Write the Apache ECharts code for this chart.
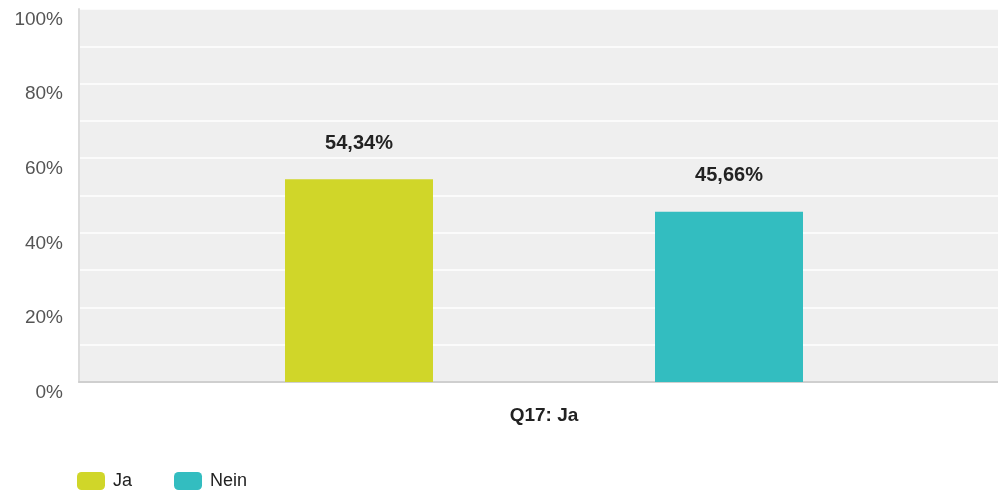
<!DOCTYPE html>
<html>
<head>
<meta charset="utf-8">
<script src="https://cdn.jsdelivr.net/npm/echarts@6/dist/echarts.min.js"></script>
<style>
  html, body { margin: 0; padding: 0; background: #fff; }
  #chart { width: 998px; height: 492px; }
</style>
</head>
<body>
<div id="chart"></div>
<script>
// Survey question Q17, share of answers
const categories = ['Q17: Ja'];
const seriesNames = ['Ja', 'Nein'];
const jaValues = [54.34];
const neinValues = [45.66];
const seriesColors = ['#d0d629', '#33bdc0'];

const FONT = '"Liberation Sans", Arial, sans-serif';

const fmtPct = v => v.toFixed(2).replace('.', ',') + '%';

const makeSeries = (name, data, color) => ({
  name: name,
  type: 'bar',
  data: data,
  barWidth: 148,
  barGap: '150%',
  itemStyle: { color: color },
  label: {
    show: true,
    position: 'top',
    distance: 26,
    formatter: p => fmtPct(p.value),
    fontFamily: FONT,
    fontSize: 20,
    fontWeight: 'bold',
    color: '#222'
  }
});

const chart = echarts.init(document.getElementById('chart'));
chart.setOption({
  animation: false,
  textStyle: { fontFamily: FONT },
  grid: {
    left: 79, top: 9, height: 373, width: 930,
    outerBoundsMode: 'none',
    show: true, backgroundColor: '#efefef', borderWidth: 0
  },
  legend: {
    data: seriesNames,
    left: 77, top: 472, padding: 0,
    itemWidth: 28, itemHeight: 18, itemGap: 42,
    icon: 'roundRect',
    textStyle: { fontFamily: FONT, fontSize: 18, color: '#222', padding: [0, 0, 0, 3] }
  },
  xAxis: {
    type: 'category',
    data: categories,
    axisTick: { show: false },
    axisLine: { show: true, lineStyle: { color: '#cfcfcf', width: 2 } },
    axisLabel: {
      margin: 24, fontFamily: FONT, fontSize: 19, fontWeight: 'bold', color: '#222'
    }
  },
  yAxis: {
    type: 'value',
    min: 0, max: 100, interval: 10,
    axisLine: { show: true, lineStyle: { color: '#dcdcdc', width: 2 } },
    axisTick: { show: false },
    splitLine: { show: true, lineStyle: { color: '#ffffff', width: 1.5 } },
    axisLabel: {
      margin: 16,
      fontFamily: FONT, fontSize: 19, color: '#555',
      verticalAlign: 'top',
      lineHeight: 19,
      padding: [1, 0, 0, 0],
      formatter: v => (v % 20 === 0 ? v + '%' : '')
    }
  },
  series: [
    makeSeries(seriesNames[0], jaValues, seriesColors[0]),
    makeSeries(seriesNames[1], neinValues, seriesColors[1])
  ]
});
</script>
</body>
</html>
